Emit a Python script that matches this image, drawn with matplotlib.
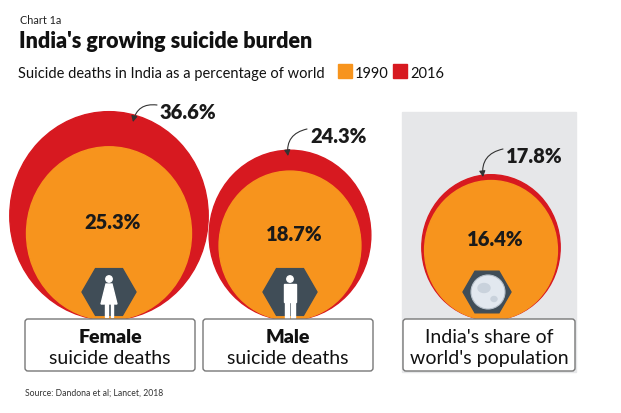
import numpy as np
import matplotlib.pyplot as plt
from matplotlib.patches import Ellipse, Circle, RegularPolygon, FancyBboxPatch, Rectangle, Polygon

plt.rcParams['font.family'] = ['Lato', 'DejaVu Sans']

# data (% of world)
groups = ["Female\nsuicide deaths", "Male\nsuicide deaths", "India's share of\nworld's population"]
v1990 = [25.3, 18.7, 16.4]
v2016 = [36.6, 24.3, 17.8]
years = ["1990", "2016"]

RED = "#d71920"
ORANGE = "#f7941d"
HEX = "#404d57"

fig = plt.figure(figsize=(6.21, 4.14), dpi=100)
ax = fig.add_axes([0, 0, 1, 1])
ax.set_xlim(0, 621)
ax.set_ylim(414, 0)
ax.axis("off")

cx = [109, 290, 491]
bottom = 321
k = 16.4          # px per sqrt(percent), area ~ value
stretch = 1.05
boxes = [(25, 195), (203, 373), (403, 575)]
# where the 2016 labels sit and where their arrows point
lab_xy = [(160, 113), (310, 137), (506, 157)]
arr_end = [(133, 123), (288, 157), (483, 178)]

# grey panel behind population
ax.add_patch(Rectangle((402, 113), 174, 260, color="#e6e7e9", zorder=0))

for i in range(3):
    r16 = k * np.sqrt(v2016[i])
    r90 = k * np.sqrt(v1990[i])
    ax.add_patch(Ellipse((cx[i], bottom - r16 * stretch), 2 * r16, 2 * r16 * stretch, color=RED, zorder=1))
    ax.add_patch(Ellipse((cx[i], bottom - r90 * stretch), 2 * r90, 2 * r90 * stretch, color=ORANGE, zorder=2))

    # inner 1990 label
    ax.text(cx[i] + 4, bottom - r90 * stretch - 12, f"{v1990[i]}%", ha="center", va="center",
            fontsize=14.5, fontweight="heavy", color="#1a1a1a", zorder=5)

    # 2016 label with curved arrow
    tx, ty = lab_xy[i]
    ax.text(tx, ty, f"{v2016[i]}%", ha="left", va="center", fontsize=14.5, fontweight="heavy",
            color="#1a1a1a", zorder=5)
    ax.annotate("", xy=arr_end[i], xytext=(tx - 3, ty - 7),
                arrowprops=dict(arrowstyle="-|>,head_length=0.35,head_width=0.18", color="#333333",
                                lw=0.8, connectionstyle="arc3,rad=0.45", shrinkA=0, shrinkB=0),
                zorder=5)

    # hexagon badge
    hr = 27 if i < 2 else 24
    hx = cx[i] if i < 2 else 487
    ax.add_patch(RegularPolygon((hx, 293), 6, radius=hr, orientation=np.pi / 6,
                                color=HEX, zorder=3))

    # label box
    x0, x1 = boxes[i]
    ax.add_patch(FancyBboxPatch((x0, 320), x1 - x0, 52, boxstyle="round,pad=0,rounding_size=3",
                                facecolor="white", edgecolor="#777777", lw=1, zorder=4))
    first, second = groups[i].split("\n")
    mid = (x0 + x1) / 2
    ax.text(mid, 343, first, ha="center", va="baseline", fontsize=14,
            fontweight="heavy" if i < 2 else "normal", color="#111111", zorder=5)
    ax.text(mid, 364, second, ha="center", va="baseline", fontsize=14, color="#111111", zorder=5)

# female icon
fx = cx[0]
ax.add_patch(Circle((fx, 280), 3.2, color="white", zorder=3.5))
ax.add_patch(Polygon([(fx - 3, 285), (fx + 3, 285), (fx + 8, 305), (fx - 8, 305)], color="white", zorder=3.5))
ax.add_patch(Rectangle((fx - 4, 305), 2.5, 13, color="white", zorder=3.5))
ax.add_patch(Rectangle((fx + 1.5, 305), 2.5, 13, color="white", zorder=3.5))
# male icon
mx = cx[1]
ax.add_patch(Circle((mx, 280), 3.2, color="white", zorder=3.5))
ax.add_patch(Rectangle((mx - 6, 285), 12, 18, color="white", zorder=3.5))
ax.add_patch(Rectangle((mx - 5, 303), 4, 16, color="white", zorder=3.5))
ax.add_patch(Rectangle((mx + 1, 303), 4, 16, color="white", zorder=3.5))
# globe
ax.add_patch(Circle((488, 293), 17, facecolor="#e2e8ef", edgecolor="#b8c2cc", lw=0.8, zorder=3.5))
ax.add_patch(Ellipse((484, 289), 12, 9, color="#c9d2dc", zorder=3.6))
ax.add_patch(Ellipse((494, 300), 6, 5, color="#c9d2dc", zorder=3.6))

# titles
ax.text(20, 24, "Chart 1a", fontsize=7.8, va="baseline", color="#222222")
ax.text(19, 48, "India's growing suicide burden", fontsize=15.5, fontweight="heavy", va="baseline", color="#111111")
ax.text(18, 78, "Suicide deaths in India as a percentage of world", fontsize=10.5, va="baseline", color="#111111")

# legend
for lx, col, lab in [(338, ORANGE, years[0]), (393, RED, years[1])]:
    ax.add_patch(Rectangle((lx, 65), 14, 14, color=col))
    ax.text(lx + 17, 78, lab, fontsize=10.5, va="baseline", color="#111111")

ax.text(25, 396, "Source: Dandona et al; Lancet, 2018", fontsize=6.2, va="baseline", color="#333333")

fig.savefig("out.png", dpi=100)
